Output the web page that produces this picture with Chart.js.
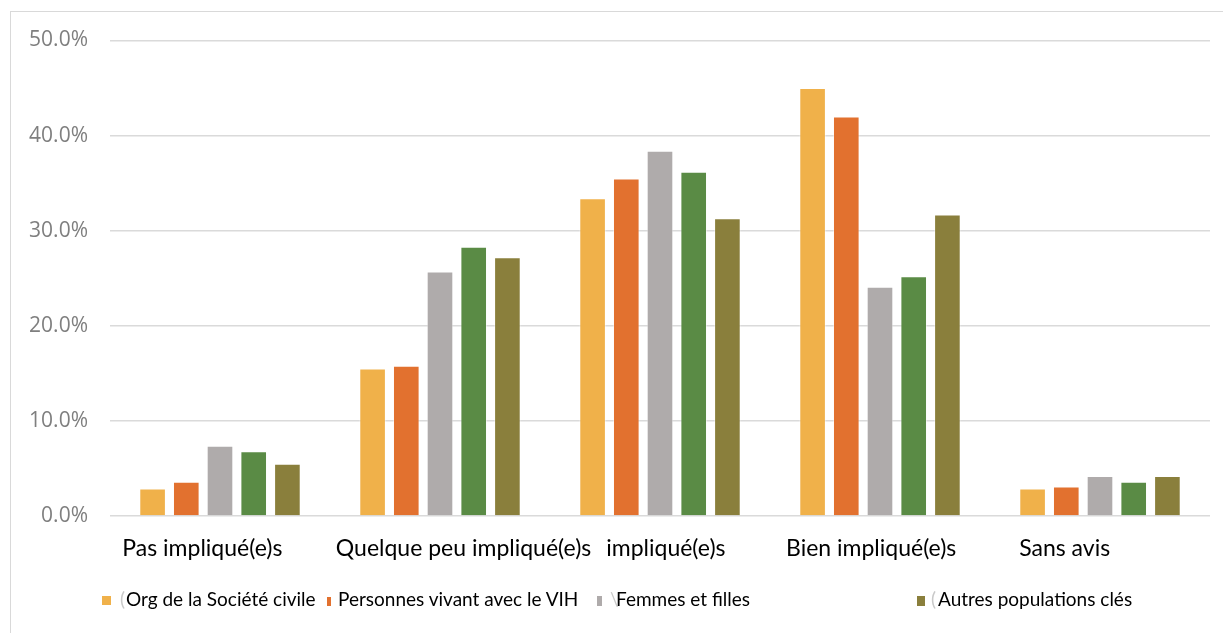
<!DOCTYPE html>
<html lang="fr">
<head>
<meta charset="utf-8">
<title>Implication par groupe</title>
<script src="https://cdn.jsdelivr.net/npm/chart.js@4.4.1/dist/chart.umd.min.js"></script>
<style>
  html, body { margin: 0; padding: 0; background: #fff; overflow: hidden; width: 1223px; height: 633px; }
  #frame { position: absolute; left: 10px; top: 11px; width: 1400px; height: 800px; border: 1px solid #d9d9d9; box-sizing: border-box; }
  #chart { position: absolute; left: 0; top: 0; }
  #legend { position: absolute; left: 0; top: 0; width: 1223px; height: 633px; font-family: Lato, sans-serif; font-size: 19px; color: #000; pointer-events: none; }
  #legend .mark { position: absolute; }
  #legend .txt { position: absolute; top: 589px; line-height: 20px; white-space: nowrap; }
  #legend .ghost { position: absolute; top: 589px; line-height: 20px; color: #c9c9c9; }
</style>
</head>
<body>
<div id="frame"></div>
<canvas id="chart" width="1223" height="633"></canvas>
<div id="legend"></div>
<script>
// Categories and series (percent of respondents)
const categories = ['Pas impliqué(e)s', 'Quelque peu impliqué(e)s', 'impliqué(e)s', 'Bien impliqué(e)s', 'Sans avis'];
const orgSocieteCivile  = [2.9, 15.5, 33.4, 45.0, 2.9];
const personnesVIH      = [3.6, 15.8, 35.5, 42.0, 3.1];
const femmesFilles      = [7.4, 25.7, 38.4, 24.1, 4.2];
const serieVerte        = [6.8, 28.3, 36.2, 25.2, 3.6];
const autresPopulations = [5.5, 27.2, 31.3, 31.7, 4.2];
const yTickValues = [0, 10, 20, 30, 40, 50];
const legendLabels = ['Org de la Société civile', 'Personnes vivant avec le VIH', 'Femmes et filles', '', 'Autres populations clés'];

// Styling
const colors = ['#F0B14A', '#E2712F', '#AFABAB', '#5A8B45', '#8A7F3C'];
const xFont = { family: 'Lato', size: 23 };
const yFont = { family: 'Open Sans', size: 21 };
// horizontal nudge of each category label, in px
const labelShift = [-17, 25, 5, -8, -34];

const measureCtx = document.createElement('canvas').getContext('2d');
function nudge(text, shift) {
  measureCtx.font = xFont.size + 'px ' + xFont.family;
  const sp = measureCtx.measureText(' ').width;
  const n = Math.round(Math.abs(shift) * 2 / sp);
  const pad = ' '.repeat(n);
  return shift < 0 ? text + pad : pad + text;
}

const series = [orgSocieteCivile, personnesVIH, femmesFilles, serieVerte, autresPopulations];

new Chart(document.getElementById('chart'), {
  type: 'bar',
  data: {
    labels: categories,
    datasets: series.map((values, i) => ({
      label: legendLabels[i],
      data: values,
      backgroundColor: colors[i],
      borderColor: 'rgba(255,255,255,0.45)',
      borderWidth: 1,
      categoryPercentage: 0.766,
      barPercentage: 0.79
    }))
  },
  options: {
    responsive: false,
    animation: false,
    devicePixelRatio: 1,
    layout: { padding: { left: 0, top: 40.5, right: 13, bottom: 0 } },
    plugins: { legend: { display: false }, tooltip: { enabled: false } },
    scales: {
      x: {
        grid: { display: false },
        border: { display: false },
        ticks: {
          color: '#000',
          font: xFont,
          padding: 11,
          maxRotation: 0,
          minRotation: 0,
          autoSkip: false,
          callback: (v, i) => nudge(categories[i], labelShift[i])
        },
        afterFit: axis => { axis.height = 117; }
      },
      y: {
        min: 0,
        max: 50,
        afterBuildTicks: axis => { axis.ticks = yTickValues.map(v => ({ value: v })); },
        grid: { color: '#dadada', lineWidth: 1.5, drawTicks: false },
        border: { display: false },
        ticks: {
          color: '#7f7f7f',
          font: yFont,
          padding: 22,
          callback: v => v.toFixed(1) + '%'
        },
        afterFit: axis => { axis.width = 110; }
      }
    }
  }
});

// Legend row
const legendItems = [
  { mark: [102, 596, 9, 9],  ghost: ['(', 120],  text: 126 },
  { mark: [327, 597, 4, 9],  ghost: null,        text: 338 },
  { mark: [597, 596, 5, 10], ghost: ['\\', 610], text: 616 },
  null,
  { mark: [917, 596, 8, 10], ghost: ['(', 931],  text: 938 }
];
const legendEl = document.getElementById('legend');
legendItems.forEach((it, i) => {
  if (!it) return;
  const m = document.createElement('div');
  m.className = 'mark';
  m.style.cssText = `left:${it.mark[0]}px;top:${it.mark[1]}px;width:${it.mark[2]}px;height:${it.mark[3]}px;background:${colors[i]}`;
  legendEl.appendChild(m);
  if (it.ghost) {
    const g = document.createElement('span');
    g.className = 'ghost';
    g.style.left = it.ghost[1] + 'px';
    g.textContent = it.ghost[0];
    legendEl.appendChild(g);
  }
  const t = document.createElement('span');
  t.className = 'txt';
  t.style.left = it.text + 'px';
  t.textContent = legendLabels[i];
  legendEl.appendChild(t);
});
</script>
</body>
</html>
